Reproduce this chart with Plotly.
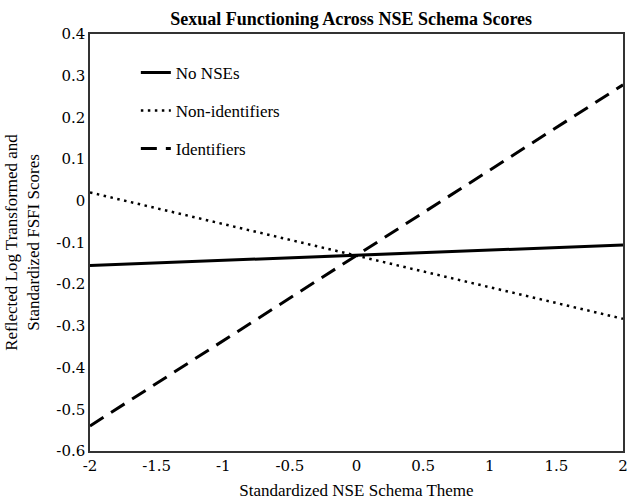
import plotly.graph_objects as go

x_vals = [-2, 2]
no_nses = [-0.155, -0.106]
non_identifiers = [0.02, -0.283]
identifiers = [-0.54, 0.278]

series_names = ["No NSEs", "Non-identifiers", "Identifiers"]
x_ticks = [-2, -1.5, -1, -0.5, 0, 0.5, 1, 1.5, 2]
y_ticks = [0.4, 0.3, 0.2, 0.1, 0, -0.1, -0.2, -0.3, -0.4, -0.5, -0.6]

FONT = "Times New Roman"
TICK_FONT = "DejaVu Serif"
fnt = lambda s, fam=FONT: dict(family=fam, size=s, color="black")

fig = go.Figure()
styles = [("solid", 3), ("2.5px,4.5px", 2.5), ("16px,9px", 3)]
for i, (name, vals) in enumerate(zip(series_names, [no_nses, non_identifiers, identifiers])):
    dash, w = styles[i]
    fig.add_trace(go.Scatter(x=x_vals, y=vals, mode="lines", name=name,
                             legendgroup=name,
                             line=dict(color="black", width=w, dash=dash)))

fig.update_layout(
    template="none",
    width=627, height=503,
    margin=dict(l=90, r=4, t=34, b=52),
    paper_bgcolor="white", plot_bgcolor="white",
    font=fnt(17),
    title=dict(text="<b>Sexual Functioning Across NSE Schema Scores</b>",
               x=0.56, xanchor="center", y=0.962, yanchor="middle",
               font=fnt(18)),
    legend=dict(x=0.086, y=0.95, xanchor="left", yanchor="top",
                bgcolor="rgba(0,0,0,0)", tracegroupgap=13,
                font=fnt(17)),
    xaxis=dict(range=[-2, 2], tickvals=x_ticks,
               ticktext=[f"{v:g}" for v in x_ticks],
               tickfont=fnt(15, TICK_FONT), ticklabeloverflow="allow",
               showgrid=False, zeroline=False, showline=True,
               linecolor="#333333", linewidth=1.5, mirror=True, ticks="",
               title=dict(text="Standardized NSE Schema Theme", standoff=10,
                          font=fnt(17))),
    yaxis=dict(range=[-0.6, 0.4], tickvals=y_ticks,
               ticktext=[f"{v:g}" for v in y_ticks],
               tickfont=fnt(15, TICK_FONT), ticklabeloverflow="allow",
               showgrid=False, zeroline=False, showline=True,
               linecolor="#333333", linewidth=1.5, mirror=True, ticks="",
               title=dict(text="Reflected Log Transformed and<br>Standardized FSFI Scores",
                          standoff=12, font=fnt(17))),
    showlegend=True,
)

fig.write_html("out.html", config={"displayModeBar": False},
               post_script="document.body.style.margin='0';")
